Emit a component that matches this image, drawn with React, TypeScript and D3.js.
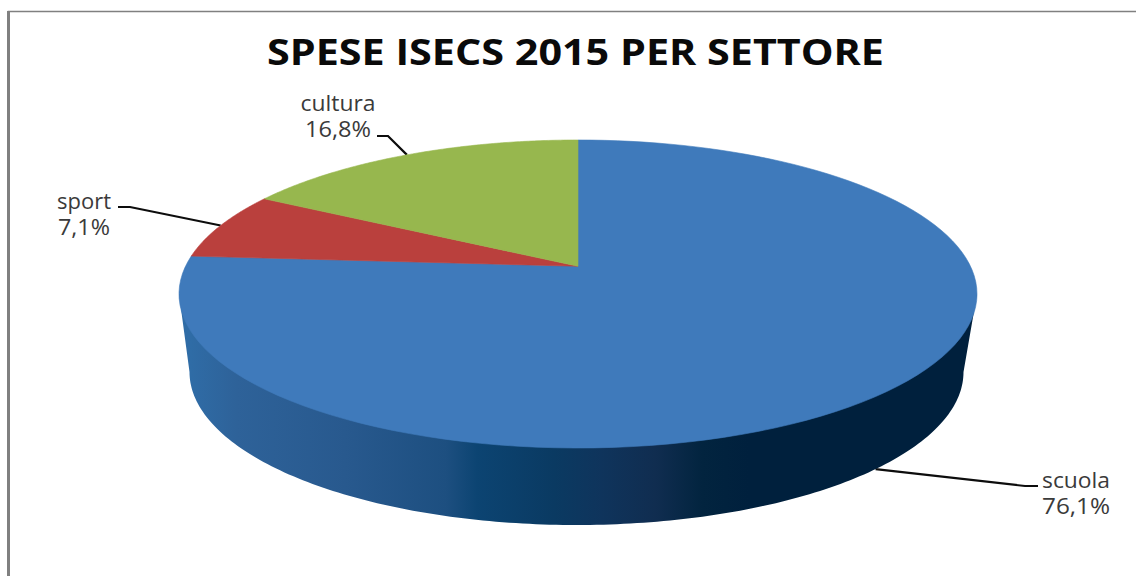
import React from "react";
import * as d3 from "d3";

const categories = ["scuola", "sport", "cultura"];
const shares = [76.1, 7.1, 16.8];
const shareLabels = ["76,1%", "7,1%", "16,8%"];
const sliceColors = ["#3f7abb", "#ba403d", "#97b74e"];

const width = 1136;
const height = 576;
const fontFamily = "'Open Sans', sans-serif";

// perspective of the disc: 0 would be a flat ellipse with the centre in the middle
const tilt = -0.18;

const topX = d3.scaleLinear().domain([-1, 1]).range([179, 977]);
const topY = d3.scaleLinear().domain([-1, 1]).range([140, 448]);
const baseX = d3.scaleLinear().domain([-1, 1]).range([189.5, 963.5]);
const baseY = d3.scaleLinear().domain([-1, 1]).range([219, 525]);

// angle (clockwise from 12 o'clock) -> unit coordinates on the tilted disc
const project = (a: number): [number, number] => {
  const u = Math.sin(a);
  const v = -Math.cos(a);
  const d = 1 + tilt * v;
  return [(u * Math.sqrt(1 - tilt * tilt)) / d, (v + tilt) / d];
};

const pie = d3.pie<number>().sort(null).value((d) => d);
const slices = pie(shares);
const line = d3.line();

const rim = (a0: number, a1: number): [number, number][] =>
  d3.range(0, 121).map((i) => {
    const [x, y] = project(a0 + ((a1 - a0) * i) / 120);
    return [topX(x), topY(y)] as [number, number];
  });

const slicePath = (a0: number, a1: number) =>
  line([[topX(0), topY(tilt)], ...rim(a0, a1)]) + "Z";

// outer wall: rim outline down to the base outline, lower half only
const wallPath = (() => {
  const lower = d3.range(0, 181).map((i) => {
    const t = (i / 180) * Math.PI;
    return [baseX(Math.cos(t)), baseY(Math.sin(t))] as [number, number];
  });
  return line([[topX(1), topY(0)], ...lower, [topX(-1), topY(0)]]) + "Z";
})();

const wallStops: [number, string][] = [
  [0, "#2f6ca6"],
  [0.06, "#2e6299"],
  [0.2, "#28598e"],
  [0.33, "#1d4f80"],
  [0.37, "#0c4472"],
  [0.47, "#0a3a62"],
  [0.53, "#0f345c"],
  [0.6, "#102d50"],
  [0.66, "#02243f"],
  [0.72, "#00203d"],
  [1, "#00203d"],
];

// label boxes and elbows, in the same order as categories
const labelLayout = [
  { x: 1076, y: 488, w1: 68, w2: 68, elbow: [1025, 486], end: 1038, depth: 1 },
  { x: 84, y: 209, w1: 54, w2: 52, elbow: [130, 207], end: 118, depth: 0 },
  { x: 338, y: 111, w1: 75, w2: 66, elbow: [388, 136], end: 377, depth: 0 },
];

const App: React.FC = () => (
  <svg
    width={width}
    height={height}
    viewBox={`0 0 ${width} ${height}`}
    style={{ position: "absolute", left: 0, top: 0, background: "#fff" }}
  >
    <defs>
      <linearGradient id="wallGradient" gradientUnits="userSpaceOnUse" x1={190} x2={966} y1={0} y2={0}>
        {wallStops.map(([o, c]) => (
          <stop key={o} offset={o} stopColor={c} />
        ))}
      </linearGradient>
    </defs>

    <path d="M8.5,576V11.5H1136" fill="none" stroke="#808080" strokeWidth={1.5} />
    <line x1={8.5} x2={8.5} y1={11} y2={576} stroke="#808080" strokeWidth={3} />

    <text
      x={575.5}
      y={65}
      textAnchor="middle"
      fontFamily={fontFamily}
      fontWeight={700}
      fontSize={36}
      fill="#0a0a0a"
      textLength={617}
      lengthAdjust="spacingAndGlyphs"
    >
      SPESE ISECS 2015 PER SETTORE
    </text>

    {slices.map((s, i) => {
      const mid = (s.startAngle + s.endAngle) / 2;
      const [u, v] = project(mid);
      const l = labelLayout[i];
      const f = l.depth;
      const start: [number, number] = [
        topX(u) + (baseX(u) - topX(u)) * f,
        topY(v) + (baseY(v) - topY(v)) * f,
      ];
      const elbow = l.elbow as [number, number];
      return (
        <path
          key={categories[i]}
          d={line([start, elbow, [l.end, elbow[1]]]) ?? ""}
          fill="none"
          stroke="#0d0d0d"
          strokeWidth={2.2}
        />
      );
    })}

    <path d={wallPath} fill="url(#wallGradient)" />

    {slices.map((s, i) => (
      <path
        key={categories[i]}
        d={slicePath(s.startAngle, s.endAngle)}
        fill={sliceColors[i]}
        stroke={sliceColors[i]}
        strokeWidth={0.6}
      />
    ))}

    {categories.map((c, i) => {
      const l = labelLayout[i];
      return (
        <g key={c} textAnchor="middle" fontFamily={fontFamily} fontSize={21} fill="#3a3a3a">
          <text x={l.x} y={l.y} textLength={l.w1} lengthAdjust="spacingAndGlyphs">
            {c}
          </text>
          <text x={l.x} y={l.y + 25.5} textLength={l.w2} lengthAdjust="spacingAndGlyphs">
            {shareLabels[i]}
          </text>
        </g>
      );
    })}
  </svg>
);

export default App;
